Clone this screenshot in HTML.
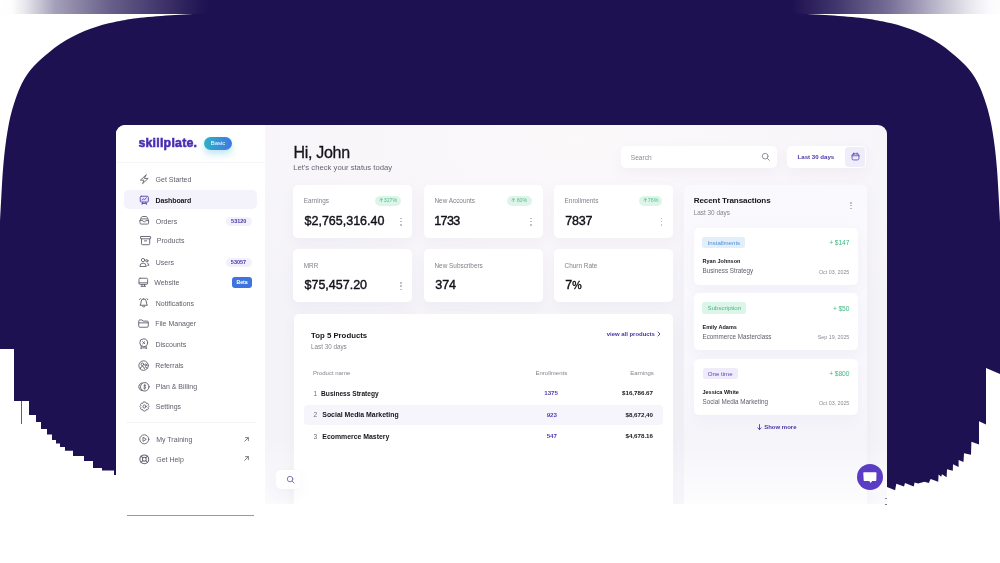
<!DOCTYPE html>
<html lang="en">
<head>
<meta charset="utf-8">
<title>Skillplate Dashboard</title>
<style>
*{box-sizing:border-box;margin:0;padding:0}
html,body{width:1000px;height:563px;overflow:hidden;background:#fff}
body{font-family:"Liberation Sans",sans-serif;position:relative;color:#15141f}
.abs{position:absolute}
#bg{position:absolute;left:0;top:0;width:1000px;height:563px}
#sidewrap{position:absolute;left:116px;top:125px;width:149.5px;height:438px;background:#fff;border-radius:9px 0 0 0}
#panel{position:absolute;left:116px;top:125px;width:771px;height:379px;border-radius:9px 9px 0 0;overflow:hidden}
#inner{position:absolute;left:-116px;top:-125px;width:1000px;height:563px;will-change:transform}
#mainbg{position:absolute;left:265.3px;top:125px;width:622px;height:379px;background:linear-gradient(180deg,rgba(255,255,255,0) 82%,rgba(255,255,255,.55) 100%),radial-gradient(ellipse 75% 55% at 50% 4%,rgba(252,249,251,.95),rgba(252,249,251,.5) 55%,rgba(252,249,251,0) 100%),#f4f3f8}
#side{position:absolute;left:116px;top:125px;width:149.3px;height:438px;background:#fff}
.t{position:absolute;white-space:nowrap}
.hr{position:absolute;background:#f5f4f9}
.actbg{position:absolute;border-radius:5px;background:#f4f2fb}
.badge{position:absolute;border-radius:5px;background:#f2f0fb;color:#4a35a8;font-size:5.5px;font-weight:bold;text-align:center;line-height:9.2px}
.beta{position:absolute;border-radius:3px;background:#3d74dd;color:#fff;font-size:5.2px;font-weight:bold;text-align:center;line-height:11px}
#basic{position:absolute;left:204px;top:137.2px;width:28px;height:13px;border-radius:7px;background:linear-gradient(90deg,#2fb1c6,#3e78e2);color:#fff;font-size:5.9px;text-align:center;line-height:13px;box-shadow:0 4px 7px rgba(70,180,215,.35)}
.card{position:absolute;background:#fff;border-radius:5px;box-shadow:0 5px 14px rgba(110,100,160,.055)}
.calbg{position:absolute;border-radius:4px;background:#efedf9}
.pill{position:absolute;border-radius:5px;background:#ddf5e9;color:#4dc08d;font-size:5.3px;line-height:9.6px;text-align:center;white-space:nowrap}
.pill svg{display:inline-block;width:4.6px;height:4.6px;vertical-align:-0.3px;margin-right:0.6px;fill:none;stroke:#4dc08d;stroke-width:0.9;stroke-linecap:round;stroke-linejoin:round}
svg.ic{fill:none;stroke-linecap:round;stroke-linejoin:round;overflow:visible}
.dot{position:absolute;width:1.6px;height:1.6px;border-radius:50%}
.prod{border-radius:5px 5px 0 0}
.trans{border-radius:5px 5px 0 0;background:linear-gradient(180deg,#faf9fd 0%,#f8f7fc 70%,#f5f4fa 77%,#f6f5fa 82%,#fdfdfe 100%)}
.rowbg{position:absolute;border-radius:4px;background:#f6f5fb}
.tag{position:absolute;border-radius:2.5px;font-size:6.1px;text-align:center;line-height:11.4px;white-space:nowrap}
.sbtn{border-radius:5px}
#uline{position:absolute;left:127px;top:515.4px;width:126.5px;height:1px;background:#9891c6}
#chat{position:absolute;left:856.8px;top:463.8px;width:26px;height:26px;border-radius:50%;background:#5b3cc4}
</style>
</head>
<body>
<svg id="bg" viewBox="0 0 1000 563">
  <defs>
    <linearGradient id="gl" x1="0" x2="1" y1="0" y2="0">
      <stop offset="0.000" stop-color="#ffffff"/>
      <stop offset="0.057" stop-color="#fdfdfd"/>
      <stop offset="0.118" stop-color="#e8e7ee"/>
      <stop offset="0.259" stop-color="#a5a0b9"/>
      <stop offset="0.519" stop-color="#68608a"/>
      <stop offset="0.778" stop-color="#3e3269"/>
      <stop offset="0.943" stop-color="#221654"/>
      <stop offset="0.991" stop-color="#1e1151"/>
    </linearGradient>
    <linearGradient id="gr" x1="0" x2="1" y1="0" y2="0">
      <stop offset="0.000" stop-color="#1e1151"/>
      <stop offset="0.019" stop-color="#1e1151"/>
      <stop offset="0.222" stop-color="#40356b"/>
      <stop offset="0.481" stop-color="#787097"/>
      <stop offset="0.741" stop-color="#c7c4d4"/>
      <stop offset="0.858" stop-color="#e8e7ee"/>
      <stop offset="0.943" stop-color="#fafafc"/>
      <stop offset="1.000" stop-color="#fdfdfd"/>
    </linearGradient>
  </defs>
  <rect x="0" y="0" width="1000" height="563" fill="#ffffff"/>
  <rect x="0" y="0" width="212" height="14" fill="url(#gl)"/>
  <rect x="211" y="0" width="578" height="14" fill="#1e1151"/>
  <rect x="788" y="0" width="212" height="14" fill="url(#gr)"/>
  <path fill="#1e1151" d="M207,13.5 L793,13.5
    C798.3,13.7 813.8,14.2 825.0,14.9 C836.2,15.6 850.8,16.8 860.0,17.8 C869.2,18.8 874.8,20.0 880.0,20.9 C885.2,21.8 887.4,22.3 891.3,23.3 C895.2,24.3 899.4,25.4 903.4,26.7 C907.4,28.0 911.5,29.4 915.5,31.1 C919.5,32.8 923.6,34.7 927.6,36.8 C931.6,38.9 935.6,41.1 939.6,43.8 C943.6,46.5 947.7,49.6 951.7,52.9 C955.7,56.2 960.3,60.2 963.8,63.7 C967.3,67.2 969.8,70.0 972.5,74.0 C975.2,78.0 977.7,82.3 980.0,87.5 C982.3,92.7 984.6,99.1 986.4,105.0 C988.2,110.9 989.6,116.3 991.0,123.0 C992.4,129.7 993.5,137.5 994.5,145.0 C995.5,152.5 996.2,159.7 996.9,168.0 C997.6,176.3 998.1,186.0 998.6,195.0 C999.1,204.0 999.8,217.5 1000.0,222.0
    L1000,374 L986,368 L986,424.5 L979,421.3 L979,444.4 L971.4,441.7 L971,454.7 L964,453.3 L963.5,462.1 L958.6,460 L958.6,467.1 L953,464.3 L952.8,470.7 L947,469.2 L946.6,477.2 L942,474.2 L941.2,476.7 L938.6,474.6 L938.2,481.7 L930.6,479 L928.8,483.1 L924.4,481.7 L918.2,483.4 L914.6,482.5 L913.7,486.6 L905,483.1 L904,486.6 L896.3,483.8 L895.1,490.2 L887,487
    L887,500 L116,500 L116,475 L114,475 L114,470.6 L102,470.6 L102,468 L93,468 L93,461 L84,461 L84,456 L73,456 L73,450.7 L65,450.7 L65,447 L60,447 L60,443.6 L56,443.6 L56,440 L52,440 L52,434.5 L47,434.5 L47,429 L41,429 L41,422 L36,422 L36,415 L29,415 L29,401 L14,401 L14,349 L0,349 L0,222
    C0.2,217.5 0.9,204.0 1.4,195.0 C1.9,186.0 2.4,176.3 3.1,168.0 C3.8,159.7 4.5,152.5 5.5,145.0 C6.5,137.5 7.7,129.7 9.0,123.0 C10.3,116.3 11.8,110.9 13.6,105.0 C15.4,99.1 17.7,92.7 20.0,87.5 C22.3,82.3 24.8,78.0 27.5,74.0 C30.2,70.0 32.7,67.2 36.2,63.7 C39.7,60.2 44.3,56.2 48.3,52.9 C52.3,49.6 56.4,46.5 60.4,43.8 C64.4,41.1 68.4,38.9 72.4,36.8 C76.4,34.7 80.5,32.8 84.5,31.1 C88.5,29.4 92.6,28.0 96.6,26.7 C100.6,25.4 104.8,24.3 108.7,23.3 C112.6,22.3 114.8,21.8 120.0,20.9 C125.2,20.0 130.8,18.8 140.0,17.8 C149.2,16.8 163.8,15.6 175.0,14.9 C186.2,14.2 201.7,13.7 207.0,13.5 Z"/>
  <rect x="21" y="401" width="0.8" height="23" fill="#3a3260"/>
</svg>
<div id="sidewrap"></div>
<div id="panel"><div id="inner">
<div id="mainbg"></div>
<div id="side"></div>
<div class="t" style="left:138.4px;top:135.4px;font-size:12.40px;line-height:17.4px;color:#4a2cb4;font-weight:bold;letter-spacing:0.22px;-webkit-text-stroke:0.55px #4a2cb4;">skillplate.</div>
<div id="basic">Basic</div>
<div class="hr" style="left:116.0px;top:162.3px;width:149.0px;height:1.0px;"></div>
<div class="actbg" style="left:124.0px;top:190.4px;width:132.5px;height:19.0px;"></div>
<div class="t" style="left:155.6px;top:175.3px;font-size:7.00px;line-height:9.8px;color:#5f5e6b;">Get Started</div>
<div class="t" style="left:155.6px;top:195.8px;font-size:7.00px;line-height:9.8px;color:#16151d;font-weight:bold;letter-spacing:-0.12px;">Dashboard</div>
<div class="t" style="left:155.8px;top:216.5px;font-size:7.00px;line-height:9.8px;color:#5f5e6b;">Orders</div>
<div class="t" style="left:156.8px;top:235.9px;font-size:7.00px;line-height:9.8px;color:#5f5e6b;">Products</div>
<div class="t" style="left:155.8px;top:257.8px;font-size:7.00px;line-height:9.8px;color:#5f5e6b;">Users</div>
<div class="t" style="left:154.2px;top:278.2px;font-size:7.00px;line-height:9.8px;color:#5f5e6b;">Website</div>
<div class="t" style="left:155.8px;top:298.8px;font-size:7.00px;line-height:9.8px;color:#5f5e6b;">Notifications</div>
<div class="t" style="left:155.2px;top:319.3px;font-size:7.00px;line-height:9.8px;color:#5f5e6b;">File Manager</div>
<div class="t" style="left:155.4px;top:340.1px;font-size:7.00px;line-height:9.8px;color:#5f5e6b;">Discounts</div>
<div class="t" style="left:155.2px;top:360.9px;font-size:7.00px;line-height:9.8px;color:#5f5e6b;">Referrals</div>
<div class="t" style="left:155.8px;top:381.9px;font-size:7.00px;line-height:9.8px;color:#5f5e6b;">Plan &amp; Billing</div>
<div class="t" style="left:155.8px;top:402.3px;font-size:7.00px;line-height:9.8px;color:#5f5e6b;">Settings</div>
<div class="t" style="left:156.2px;top:435.3px;font-size:7.00px;line-height:9.8px;color:#5f5e6b;">My Training</div>
<div class="t" style="left:156.2px;top:454.7px;font-size:7.00px;line-height:9.8px;color:#5f5e6b;">Get Help</div>
<div class="badge" style="left:226.0px;top:216.6px;width:25.5px;height:9.0px;">53120</div>
<div class="badge" style="left:225.5px;top:257.8px;width:26.0px;height:9.0px;">53057</div>
<div class="beta" style="left:232.3px;top:277.0px;width:19.5px;height:11.0px;">Beta</div>
<div class="hr" style="left:126.0px;top:421.8px;width:130.0px;height:1.0px;"></div>
<div class="t" style="left:293.4px;top:142.4px;font-size:16.00px;line-height:22.4px;color:#15141c;letter-spacing:-0.28px;-webkit-text-stroke:0.3px #15141c;">Hi, John</div>
<div class="t" style="left:293.2px;top:163.3px;font-size:7.70px;line-height:10.8px;color:#676673;">Let's check your status today</div>
<div class="card" style="left:620.8px;top:145.8px;width:156.6px;height:22.4px;"></div>
<div class="t" style="left:630.8px;top:152.8px;font-size:6.60px;line-height:9.2px;color:#8d8c97;">Search</div>
<div class="card" style="left:786.8px;top:145.8px;width:79.7px;height:22.4px;"></div>
<div class="t" style="left:797.6px;top:153.2px;font-size:6.10px;line-height:8.5px;color:#4a35a8;font-weight:bold;">Last 30 days</div>
<div class="calbg" style="left:845.4px;top:147.1px;width:19.7px;height:19.8px;"></div>
<div class="card" style="left:292.8px;top:184.9px;width:119.3px;height:53.6px;"></div>
<div class="t" style="left:303.8px;top:196.3px;font-size:6.40px;line-height:9.0px;color:#807f8b;">Earnings</div>
<div class="t" style="left:304.5px;top:213.1px;font-size:12.50px;line-height:17.5px;color:#121118;-webkit-text-stroke:0.4px #121118;">$2,765,316.40</div>
<div class="pill" style="left:374.9px;top:196.2px;width:26.0px;height:9.4px;"><svg viewBox="0 0 6 6"><path d="M3 5.5V0.8M1 2.6L3 0.7L5 2.6"/></svg>327%</div>
<i class="dot" style="left:400.1px;top:217.6px;background:#b4b3be"></i><i class="dot" style="left:400.1px;top:220.8px;background:#b4b3be"></i><i class="dot" style="left:400.1px;top:224.0px;background:#b4b3be"></i>
<div class="card" style="left:423.5px;top:184.9px;width:119.2px;height:53.6px;"></div>
<div class="t" style="left:434.5px;top:196.3px;font-size:6.40px;line-height:9.0px;color:#807f8b;">New Accounts</div>
<div class="t" style="left:434.3px;top:213.1px;font-size:12.50px;line-height:17.5px;color:#121118;letter-spacing:-0.65px;-webkit-text-stroke:0.4px #121118;">1733</div>
<div class="pill" style="left:507.2px;top:196.2px;width:24.4px;height:9.4px;"><svg viewBox="0 0 6 6"><path d="M3 5.5V0.8M1 2.6L3 0.7L5 2.6"/></svg>60%</div>
<i class="dot" style="left:530.2px;top:217.6px;background:#b4b3be"></i><i class="dot" style="left:530.2px;top:220.8px;background:#b4b3be"></i><i class="dot" style="left:530.2px;top:224.0px;background:#b4b3be"></i>
<div class="card" style="left:553.6px;top:184.9px;width:119.7px;height:53.6px;"></div>
<div class="t" style="left:564.6px;top:196.3px;font-size:6.40px;line-height:9.0px;color:#807f8b;">Enrollments</div>
<div class="t" style="left:565.3px;top:213.1px;font-size:12.50px;line-height:17.5px;color:#121118;letter-spacing:-0.20px;-webkit-text-stroke:0.4px #121118;">7837</div>
<div class="pill" style="left:638.9px;top:196.2px;width:23.3px;height:9.4px;"><svg viewBox="0 0 6 6"><path d="M3 5.5V0.8M1 2.6L3 0.7L5 2.6"/></svg>76%</div>
<i class="dot" style="left:660.6px;top:217.6px;background:#b4b3be"></i><i class="dot" style="left:660.6px;top:220.8px;background:#b4b3be"></i><i class="dot" style="left:660.6px;top:224.0px;background:#b4b3be"></i>
<div class="card" style="left:292.8px;top:249.4px;width:119.3px;height:53.0px;"></div>
<div class="t" style="left:303.8px;top:261.2px;font-size:6.40px;line-height:9.0px;color:#807f8b;">MRR</div>
<div class="t" style="left:304.5px;top:277.1px;font-size:12.50px;line-height:17.5px;color:#121118;-webkit-text-stroke:0.4px #121118;">$75,457.20</div>
<i class="dot" style="left:400.1px;top:282.1px;background:#b4b3be"></i><i class="dot" style="left:400.1px;top:285.3px;background:#b4b3be"></i><i class="dot" style="left:400.1px;top:288.5px;background:#b4b3be"></i>
<div class="card" style="left:423.5px;top:249.4px;width:119.2px;height:53.0px;"></div>
<div class="t" style="left:434.5px;top:261.2px;font-size:6.40px;line-height:9.0px;color:#807f8b;">New Subscribers</div>
<div class="t" style="left:435.2px;top:277.1px;font-size:12.50px;line-height:17.5px;color:#121118;-webkit-text-stroke:0.4px #121118;">374</div>
<div class="card" style="left:553.6px;top:249.4px;width:119.7px;height:53.0px;"></div>
<div class="t" style="left:564.6px;top:261.2px;font-size:6.40px;line-height:9.0px;color:#807f8b;">Churn Rate</div>
<div class="t" style="left:565.3px;top:277.1px;font-size:12.50px;line-height:17.5px;color:#121118;-webkit-text-stroke:0.4px #121118;">7<span style="font-size:10.6px;letter-spacing:-0.4px">%</span></div>
<div class="card prod" style="left:293.5px;top:313.5px;width:379.3px;height:192.5px;"></div>
<div class="t" style="left:311.0px;top:331.3px;font-size:7.80px;line-height:10.9px;color:#16151d;font-weight:bold;">Top 5 Products</div>
<div class="t" style="left:311.0px;top:342.9px;font-size:6.30px;line-height:8.8px;color:#85848f;">Last 30 days</div>
<div class="t" style="right:345.1px;top:329.9px;font-size:5.95px;line-height:8.3px;color:#4a35a8;font-weight:bold;">view all products</div>
<svg class="abs" style="left:657.3px;top:331px;width:4px;height:6px" viewBox="0 0 4 6"><path d="M1 1L3 3L1 5" fill="none" stroke="#4a35a8" stroke-width="0.9" stroke-linecap="round" stroke-linejoin="round"/></svg>
<div class="t" style="left:312.9px;top:369.1px;font-size:6.00px;line-height:8.4px;color:#85848f;">Product name</div>
<div class="t" style="right:432.8px;top:369.1px;font-size:6.00px;line-height:8.4px;color:#85848f;">Enrollments</div>
<div class="t" style="right:346.2px;top:369.1px;font-size:6.00px;line-height:8.4px;color:#85848f;">Earnings</div>
<div class="rowbg" style="left:304.4px;top:404.5px;width:358.5px;height:20.4px;"></div>
<div class="t" style="left:313.4px;top:388.7px;font-size:6.60px;line-height:9.2px;color:#6d6c78;">1</div>
<div class="t" style="left:321.1px;top:388.7px;font-size:6.60px;line-height:9.2px;color:#16151d;font-weight:bold;">Business Strategy</div>
<div class="t" style="right:442.0px;top:389.2px;font-size:6.20px;line-height:8.7px;color:#5540b8;font-weight:bold;">1375</div>
<div class="t" style="right:347.0px;top:389.2px;font-size:6.20px;line-height:8.7px;color:#16151d;font-weight:bold;">$16,786.67</div>
<div class="t" style="left:313.4px;top:410.2px;font-size:6.60px;line-height:9.2px;color:#6d6c78;">2</div>
<div class="t" style="left:322.3px;top:410.0px;font-size:6.92px;line-height:9.7px;color:#16151d;font-weight:bold;">Social Media Marketing</div>
<div class="t" style="right:443.0px;top:410.5px;font-size:6.20px;line-height:8.7px;color:#5540b8;font-weight:bold;">923</div>
<div class="t" style="right:347.0px;top:410.5px;font-size:6.20px;line-height:8.7px;color:#16151d;font-weight:bold;">$8,672,40</div>
<div class="t" style="left:313.4px;top:431.9px;font-size:6.60px;line-height:9.2px;color:#6d6c78;">3</div>
<div class="t" style="left:322.3px;top:431.7px;font-size:6.90px;line-height:9.7px;color:#16151d;font-weight:bold;">Ecommerce Mastery</div>
<div class="t" style="right:443.0px;top:432.3px;font-size:6.20px;line-height:8.7px;color:#5540b8;font-weight:bold;">547</div>
<div class="t" style="right:347.0px;top:432.3px;font-size:6.20px;line-height:8.7px;color:#16151d;font-weight:bold;">$4,678.16</div>
<div class="card trans" style="left:684.2px;top:184.9px;width:182.8px;height:321.1px;"></div>
<div class="t" style="left:693.7px;top:195.4px;font-size:8.10px;line-height:11.3px;color:#16151d;font-weight:bold;letter-spacing:-0.12px;">Recent Transactions</div>
<div class="t" style="left:693.7px;top:208.4px;font-size:6.40px;line-height:9.0px;color:#85848f;">Last 30 days</div>
<i class="dot" style="left:850.3px;top:202.0px;background:#b4b3be"></i><i class="dot" style="left:850.3px;top:204.9px;background:#b4b3be"></i><i class="dot" style="left:850.3px;top:207.8px;background:#b4b3be"></i>
<div class="card" style="left:694.0px;top:227.5px;width:163.9px;height:57.7px;"></div>
<div class="tag" style="left:702.4px;top:236.7px;width:43.0px;height:11.4px;background:#e3eefb;color:#4a8fd8">Installments</div>
<div class="t" style="right:150.7px;top:238.2px;font-size:6.70px;line-height:9.4px;color:#3fba84;letter-spacing:-0.10px;">+ $147</div>
<div class="t" style="left:702.5px;top:258.1px;font-size:5.50px;line-height:7.7px;color:#16151d;font-weight:bold;">Ryan Johnson</div>
<div class="t" style="left:702.5px;top:267.2px;font-size:6.30px;line-height:8.8px;color:#5f5e6b;">Business Strategy</div>
<div class="t" style="right:150.7px;top:268.8px;font-size:5.30px;line-height:7.4px;color:#8a8994;">Oct 03, 2025</div>
<div class="card" style="left:694.0px;top:293.4px;width:163.9px;height:56.5px;"></div>
<div class="tag" style="left:702.4px;top:302.3px;width:44.0px;height:11.5px;background:#dcf5e8;color:#45b884">Subscription</div>
<div class="t" style="right:150.7px;top:303.6px;font-size:6.70px;line-height:9.4px;color:#3fba84;letter-spacing:-0.10px;">+ $50</div>
<div class="t" style="left:702.5px;top:324.1px;font-size:5.50px;line-height:7.7px;color:#16151d;font-weight:bold;">Emily Adams</div>
<div class="t" style="left:702.5px;top:332.8px;font-size:6.30px;line-height:8.8px;color:#5f5e6b;">Ecommerce Masterclass</div>
<div class="t" style="right:150.7px;top:334.1px;font-size:5.30px;line-height:7.4px;color:#8a8994;">Sep 19, 2025</div>
<div class="card" style="left:694.0px;top:359.1px;width:163.9px;height:56.3px;"></div>
<div class="tag" style="left:702.7px;top:367.6px;width:35.0px;height:11.4px;background:#efebfb;color:#5a3fc0">One time</div>
<div class="t" style="right:150.7px;top:369.1px;font-size:6.70px;line-height:9.4px;color:#3fba84;letter-spacing:-0.10px;">+ $800</div>
<div class="t" style="left:702.5px;top:389.2px;font-size:5.50px;line-height:7.7px;color:#16151d;font-weight:bold;">Jessica White</div>
<div class="t" style="left:702.5px;top:398.1px;font-size:6.30px;line-height:8.8px;color:#5f5e6b;">Social Media Marketing</div>
<div class="t" style="right:150.7px;top:399.6px;font-size:5.30px;line-height:7.4px;color:#8a8994;">Oct 03, 2025</div>
<div class="t" style="left:764.2px;top:423.2px;font-size:6.00px;line-height:8.4px;color:#4a35a8;font-weight:bold;">Show more</div>
<svg class="abs" style="left:756.6px;top:424px;width:5px;height:6.4px" viewBox="0 0 5 6.4"><path d="M2.5 0.6V5.6M0.7 3.8L2.5 5.7L4.3 3.8" fill="none" stroke="#4a35a8" stroke-width="0.9" stroke-linecap="round" stroke-linejoin="round"/></svg>
<div class="card sbtn" style="left:276.3px;top:469.7px;width:24.2px;height:19.8px;"></div>
<svg class="abs ic" style="left:138.7px;top:174.1px;width:10.6px;height:10.6px;stroke:#62616e;stroke-width:1.0;" viewBox="0 0 12 12"><path d="M8 1L1.6 7H5.6L4 11L10.4 5H6.4Z"/></svg>
<svg class="abs ic" style="left:138.9px;top:194.7px;width:10.6px;height:10.6px;stroke:#5443ad;stroke-width:1.0;" viewBox="0 0 12 12"><rect x="1.4" y="1.4" width="9.2" height="6.6" rx="1.2" fill="#e7e1fa"/><path d="M3.6 5.8L5 4.2L6.3 5.2L8.4 3.2" /><path d="M4.2 8.2L3.5 10.6M7.8 8.2L8.5 10.6M3.7 9.6H8.3"/></svg>
<svg class="abs ic" style="left:138.8px;top:215.3px;width:10.6px;height:10.6px;stroke:#62616e;stroke-width:1.0;" viewBox="0 0 12 12"><path d="M1.1 6.3L2.6 2.8Q3 1.7 4.1 1.7H7.9Q9 1.7 9.4 2.8L10.9 6.3V9.1Q10.9 10.3 9.7 10.3H2.3Q1.1 10.3 1.1 9.1Z"/><path d="M1.1 6.3H4.2Q4.5 7.7 6 7.7Q7.5 7.7 7.8 6.3H10.9M2.6 4.4H9.4"/></svg>
<svg class="abs ic" style="left:139.8px;top:234.9px;width:11.2px;height:11.2px;stroke:#62616e;stroke-width:1.0;" viewBox="0 0 12 12"><rect x="0.6" y="1.6" width="10.8" height="2.5" rx="0.6"/><path d="M1.6 4.1V9.4Q1.6 10.4 2.6 10.4H9.4Q10.4 10.4 10.4 9.4V4.1M4.8 6.3H7.2"/></svg>
<svg class="abs ic" style="left:138.9px;top:256.6px;width:10.6px;height:10.6px;stroke:#62616e;stroke-width:1.0;" viewBox="0 0 12 12"><circle cx="4.6" cy="3.5" r="1.9"/><path d="M1 10.3Q1 6.9 4.6 6.9Q8.2 6.9 8.2 10.3Z"/><circle cx="8.9" cy="4.3" r="1.3"/><path d="M9.6 6.9Q11.2 7.4 11.2 9.4H9.8"/></svg>
<svg class="abs ic" style="left:138.1px;top:276.8px;width:10.6px;height:10.6px;stroke:#62616e;stroke-width:1.0;" viewBox="0 0 12 12"><rect x="1.1" y="1.4" width="9.8" height="7" rx="1.3"/><path d="M1.1 6.6H10.9M4.6 8.4V10.4M7.4 8.4V10.4M3.4 10.6H8.6"/></svg>
<svg class="abs ic" style="left:138.2px;top:297.2px;width:11.4px;height:11.4px;stroke:#62616e;stroke-width:1.0;" viewBox="0 0 12 12"><path d="M6 1.9Q3.2 1.9 3.2 5.1Q3.2 7.5 2.1 8.7H9.9Q8.8 7.5 8.8 5.1Q8.8 1.9 6 1.9ZM4.9 10.2Q6 11 7.1 10.2M1.6 2.9L2.6 1.7M10.4 2.9L9.4 1.7"/></svg>
<svg class="abs ic" style="left:137.9px;top:318.1px;width:11px;height:11px;stroke:#62616e;stroke-width:1.0;" viewBox="0 0 12 12"><path d="M0.8 3.2Q0.8 2.1 1.9 2.1H4.3L5.5 3.4H10.1Q11.2 3.4 11.2 4.5V9Q11.2 10.1 10.1 10.1H1.9Q0.8 10.1 0.8 9ZM0.8 5.3H11.2"/></svg>
<svg class="abs ic" style="left:137.5px;top:338.4px;width:11.4px;height:11.4px;stroke:#62616e;stroke-width:1.0;" viewBox="0 0 12 12"><circle cx="6" cy="5" r="4.1"/><path d="M4.9 3.9L7.1 6.1M7.1 3.9L4.9 6.1M3.6 8.6L2.9 11.2L4.7 10.4H7.3L9.1 11.2L8.4 8.6"/></svg>
<svg class="abs ic" style="left:137.9px;top:359.7px;width:11.2px;height:11.2px;stroke:#62616e;stroke-width:1.0;" viewBox="0 0 12 12"><circle cx="6" cy="6" r="5.1"/><circle cx="4.7" cy="4.6" r="1.4"/><path d="M2.4 9.4Q2.6 6.9 4.7 6.9Q6.8 6.9 7 9.4"/><circle cx="8.2" cy="5.3" r="1"/><path d="M7.9 7.3Q9.6 7.3 9.9 8.9"/></svg>
<svg class="abs ic" style="left:138.1px;top:380.6px;width:11.6px;height:11.6px;stroke:#62616e;stroke-width:1.0;" viewBox="0 0 12 12"><circle cx="7" cy="6" r="4.4"/><path d="M4 1.8Q0.7 3.2 0.7 6Q0.7 8.8 4 10.2"/><path d="M8.2 4.7Q7 3.9 6.2 4.6Q5.5 5.6 7 6Q8.5 6.4 7.8 7.4Q7 8.2 5.8 7.4M7 3.3V8.7" stroke-width="0.8"/></svg>
<svg class="abs ic" style="left:138.5px;top:400.9px;width:11px;height:11px;stroke:#62616e;stroke-width:1.0;" viewBox="0 0 12 12"><path d="M6 1 L7.3 1.3 L7.9 2.6 L9.3 2.5 L10.3 3.5 L10 4.9 L11 6 L10 7.1 L10.3 8.5 L9.3 9.5 L7.9 9.4 L7.3 10.7 L6 11 L4.7 10.7 L4.1 9.4 L2.7 9.5 L1.7 8.5 L2 7.1 L1 6 L2 4.9 L1.7 3.5 L2.7 2.5 L4.1 2.6 L4.7 1.3 Z"/><circle cx="6" cy="6" r="1.7"/></svg>
<svg class="abs ic" style="left:138.8px;top:434.1px;width:10.6px;height:10.6px;stroke:#62616e;stroke-width:1.0;" viewBox="0 0 12 12"><circle cx="6" cy="6" r="5.1"/><path d="M4.9 3.9L8.3 6L4.9 8.1Z"/></svg>
<svg class="abs ic" style="left:138.8px;top:453.5px;width:10.6px;height:10.6px;stroke:#62616e;stroke-width:1.15;" viewBox="0 0 12 12"><circle cx="6" cy="6" r="5"/><circle cx="6" cy="6" r="2.2"/><path d="M2.5 2.5L4.4 4.4M9.5 2.5L7.6 4.4M2.5 9.5L4.4 7.6M9.5 9.5L7.6 7.6"/></svg>
<svg class="abs ic" style="left:242.2px;top:435.0px;width:9px;height:9px;stroke:#62616e;stroke-width:1.1;" viewBox="0 0 12 12"><path d="M3.6 8.4L8.4 3.6M4.6 3.5H8.5V7.4"/></svg>
<svg class="abs ic" style="left:242.2px;top:454.3px;width:9px;height:9px;stroke:#62616e;stroke-width:1.1;" viewBox="0 0 12 12"><path d="M3.6 8.4L8.4 3.6M4.6 3.5H8.5V7.4"/></svg>
<svg class="abs ic" style="left:760.5px;top:152.1px;width:9.5px;height:9.5px;stroke:#8d8c97;stroke-width:1.2;" viewBox="0 0 12 12"><circle cx="5.3" cy="5.3" r="3.6"/><path d="M8 8L10.6 10.6"/></svg>
<svg class="abs ic" style="left:285.6px;top:475.1px;width:9.2px;height:9.2px;stroke:#6f66ad;stroke-width:1.15;" viewBox="0 0 12 12"><circle cx="5.3" cy="5.3" r="3.6"/><path d="M8 8L10.6 10.6"/></svg>
<svg class="abs ic" style="left:850.5px;top:152.4px;width:9px;height:9px;stroke:#5a45b5;stroke-width:1.1;" viewBox="0 0 12 12"><rect x="1.4" y="2.4" width="9.2" height="8.2" rx="2"/><path d="M1.4 5H10.6M3.9 1.2V3.2M8.1 1.2V3.2" /></svg>
</div></div>
<div id="uline"></div>
<div class="abs" style="left:884.6px;top:498.2px;width:2.2px;height:0.8px;background:#8a86a0"></div>
<div class="abs" style="left:885px;top:504.2px;width:2px;height:0.9px;background:#77738f"></div>
<div id="chat"><svg viewBox="0 0 26 26" style="width:26px;height:26px;display:block"><path d="M6.9 8.3H18.9Q19.5 8.3 19.5 8.9L19.3 16.3Q19.3 16.9 18.7 16.9H15.3L13.5 18.9L12.3 16.9H7.3Q6.7 16.9 6.7 16.3L6.3 8.9Q6.3 8.3 6.9 8.3Z" fill="#fff"/></svg></div>
</body>
</html>
